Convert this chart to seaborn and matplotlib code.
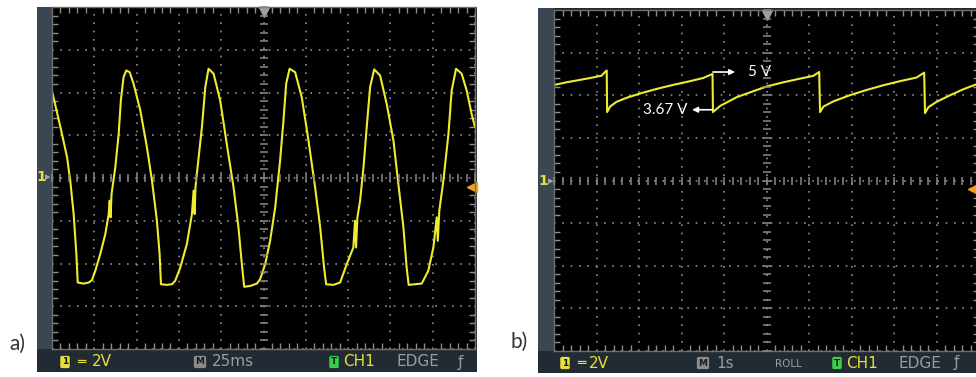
import matplotlib
matplotlib.use("Agg")
import matplotlib.pyplot as plt
from matplotlib.ticker import MultipleLocator
import seaborn as sns
import pandas as pd

# Trace a) : time in ms (25 ms/div), voltage in V (2 V/div)
a_time_ms = [0.4, 5.9, 8.9, 10.8, 12.8, 14.4, 15.2, 18.7, 21.7, 23.6,
             25.6, 28.5, 31.5, 33.5, 34.1, 34.6, 35.2, 37.4, 39.4, 40.7, 42.3, 43.9,
             45.9, 48.2, 52.2, 56.1, 59.1, 62.0, 63.6, 64.4, 67.9, 70.9, 72.8,
             75.8, 79.7, 82.7, 83.7, 84.3, 84.8, 85.6, 88.6, 90.6, 92.5,
             95.5, 99.4, 103.3, 107.3, 110.2, 112.2, 113.6, 117.1, 121.1, 123.0,
             126.0, 128.9, 131.9, 134.8, 136.8, 138.4, 140.4,
             143.7, 147.6, 151.6, 155.5, 158.5, 160.8, 162.0, 166.3, 170.3,
             174.2, 178.1, 179.1, 179.7, 180.5, 182.1, 184.1, 186.0, 188.0, 190.4,
             193.9, 197.8, 201.8, 204.7, 207.7, 209.6, 210.8, 214.6, 218.5,
             222.4, 225.4, 227.4, 228.0, 228.9, 231.3, 234.3, 236.2, 238.8,
             242.1, 245.1, 248.0, 250.0]
a_volts = [3.94, 2.06, 0.97, -0.13, -1.69, -3.56, -4.89, -4.94, -4.89, -4.78,
           -4.34, -3.56, -2.63, -1.69, -1.06, -1.84, -0.75, 0.50, 2.06, 3.63, 4.72, 5.03,
           4.95, 4.41, 3.16, 1.44, -0.13, -2.00, -3.56, -4.97, -5.00, -4.97, -4.81,
           -4.19, -3.09, -1.69, -0.59, -1.69, -0.44, 0.19, 2.38, 4.25, 5.11,
           4.88, 3.63, 1.59, -0.44, -2.31, -4.03, -5.09, -5.05, -4.94, -4.73,
           -4.03, -2.94, -1.38, 0.81, 2.69, 4.41, 5.11,
           4.95, 3.78, 1.75, -0.44, -2.31, -4.19, -4.97, -5.00, -4.89,
           -4.03, -3.25, -2.00, -3.25, -1.84, -1.06, 0.50, 2.38, 4.25, 5.08,
           4.80, 3.47, 1.75, -0.28, -2.31, -4.19, -5.00, -4.97, -4.94,
           -4.34, -3.25, -1.84, -2.94, -1.53, -0.13, 2.06, 4.09, 5.11,
           4.88, 4.09, 3.00, 2.38]

# Trace b) : time in s (1 s/div, roll mode), voltage in V (2 V/div)
b_time_s = [0.02, 0.30, 0.61, 0.93, 1.12, 1.20, 1.24,
            1.25, 1.32, 1.47, 1.71, 2.02, 2.42, 2.81, 3.20, 3.51, 3.73,
            3.74, 3.91, 4.30, 4.69, 5.00, 5.40, 5.79, 6.10, 6.24,
            6.26, 6.34, 6.57, 6.96, 7.36, 7.75, 8.14, 8.53, 8.71,
            8.73, 8.81, 9.00, 9.32, 9.63, 10.0]
b_volts = [4.49, 4.61, 4.72, 4.84, 4.92, 5.09, 5.16,
           3.21, 3.47, 3.69, 3.88, 4.08, 4.30, 4.49, 4.66, 4.81, 5.00,
           3.21, 3.50, 3.91, 4.19, 4.41, 4.61, 4.78, 4.91, 5.09,
           3.21, 3.47, 3.71, 4.00, 4.25, 4.47, 4.66, 4.83, 5.06,
           3.16, 3.44, 3.69, 4.00, 4.28, 4.56]

W, H = 976, 377
TRACE = "#efeb2e"
GRID = "#8e8e8e"
BAR = "#222a33"
STRIP = "#3a4652"


def px_rect(x, y, w, h):
    return [x / W, 1 - (y + h) / H, w / W, h / H]


def fig_xy(x, y):
    return x / W, 1 - y / H


sns.set_theme(style="dark")
plt.rcParams["font.family"] = ["DejaVu Sans"]

fig = plt.figure(figsize=(W / 100, H / 100), dpi=100)
fig.patch.set_facecolor("white")


def scope(frame, strip, screen, xdiv, ydiv, df, xcol, ycol):
    fa = fig.add_axes(px_rect(*frame))
    fa.set_facecolor(BAR)
    fa.set_xticks([])
    fa.set_yticks([])
    for s in fa.spines.values():
        s.set_visible(False)
    sa = fig.add_axes(px_rect(*strip))
    sa.set_facecolor(STRIP)
    sa.set_xticks([])
    sa.set_yticks([])
    for s in sa.spines.values():
        s.set_visible(False)

    ax = fig.add_axes(px_rect(*screen))
    ax.set_facecolor("black")
    ax.set_xlim(0, 10 * xdiv)
    ax.set_ylim(-4 * ydiv, 4 * ydiv)
    ax.xaxis.set_major_locator(MultipleLocator(xdiv))
    ax.yaxis.set_major_locator(MultipleLocator(ydiv))
    ax.xaxis.set_minor_locator(MultipleLocator(xdiv / 5))
    ax.yaxis.set_minor_locator(MultipleLocator(ydiv / 5))
    ax.grid(which="major", color=GRID, linestyle=(0, (1, 4.0)), linewidth=1.2)
    ax.tick_params(which="both", direction="in", colors=GRID, top=True, right=True,
                   bottom=True, left=True, labelbottom=False, labelleft=False)
    ax.tick_params(which="major", length=0)
    ax.tick_params(which="minor", length=4, width=1)
    for s in ax.spines.values():
        s.set_color("#6f6f6f")
        s.set_linewidth(1)

    # centre cross with fine division marks
    cx = fig.add_axes(px_rect(*screen))
    cx.patch.set_visible(False)
    cx.set_xlim(ax.get_xlim())
    cx.set_ylim(ax.get_ylim())
    cx.xaxis.set_major_locator(MultipleLocator(xdiv / 5))
    cx.yaxis.set_major_locator(MultipleLocator(ydiv / 5))
    cx.grid(False)
    for k in ("top", "right"):
        cx.spines[k].set_visible(False)
    for k in ("left", "bottom"):
        cx.spines[k].set_position(("axes", 0.5))
        cx.spines[k].set_linewidth(0)
    cx.tick_params(direction="inout", length=6, width=1.1, colors="#8a8a8a",
                   bottom=True, left=True, top=False, right=False,
                   labelbottom=False, labelleft=False)

    sns.lineplot(data=df, x=xcol, y=ycol, ax=ax, color=TRACE, linewidth=1.5,
                 sort=False, estimator=None)
    ax.set_xlabel("")
    ax.set_ylabel("")
    # trigger position marker
    ax.plot(0.5, 0.985, marker="v", color="#a0a0a0", ms=7, transform=ax.transAxes,
            clip_on=False)
    return fa, ax


df_a = pd.DataFrame({"t": a_time_ms, "v": a_volts})
df_b = pd.DataFrame({"t": b_time_s, "v": b_volts})

fa_a, ax_a = scope((37, 7, 440, 365), (37, 7, 15, 342), (52, 7, 423, 342), 25, 2,
                   df_a, "t", "v")
fa_b, ax_b = scope((538, 8, 460, 365), (538, 8, 16, 343), (554, 10, 425, 341), 1, 2,
                   df_b, "t", "v")

ax_a.plot(0.993, -0.42, marker="<", color="#f2a01e", ms=7,
          transform=ax_a.get_yaxis_transform(), clip_on=False)
ax_b.plot(0.986, -0.42, marker="<", color="#f2a01e", ms=7,
          transform=ax_b.get_yaxis_transform(), clip_on=False)

# channel markers on the left strip
for x1, x2, y in ((41, 48, 177), (543, 551, 181)):
    fig.text(*fig_xy(x1, y), "1", color="#e6e03a", fontsize=10, fontweight="bold",
             ha="center", va="center")
    fig.text(*fig_xy(x2, y), "\u25B8", color="#a8a8a8", fontsize=8,
             ha="center", va="center")

# annotations on b)
LBL = ["Lato", "DejaVu Sans"]
ax_b.annotate("", xy=(4.26, 5.09), xytext=(3.74, 5.09),
              arrowprops=dict(arrowstyle="-|>", color="white", lw=1.2, mutation_scale=8,
                              shrinkA=0, shrinkB=0))
ax_b.text(4.56, 5.09, "5 V", color="white", fontsize=11, family=LBL,
          ha="left", va="center")
ax_b.annotate("", xy=(3.25, 3.32), xytext=(3.72, 3.32),
              arrowprops=dict(arrowstyle="-|>", color="white", lw=1.2, mutation_scale=8,
                              shrinkA=0, shrinkB=0))
ax_b.text(3.13, 3.32, "3.67 V", color="white", fontsize=11, family=LBL,
          ha="right", va="center")

# status bars
YEL = "#e6e03a"
GRY = "#9c9c9c"


def badge(x, y, ch, fc):
    fig.text(*fig_xy(x, y), ch, color="#1a1a1a", fontsize=6.5, fontweight="bold",
             ha="center", va="center",
             bbox=dict(boxstyle="round,pad=0.18", fc=fc, ec="none"))


def status(x, y, s, c, size=11, ha="left"):
    fig.text(*fig_xy(x, y), s, color=c, fontsize=size, ha=ha, va="center")


ya, yb = 362, 363
badge(65, ya, "1", YEL)
status(81, ya, "\u2550", YEL, 10, "center")
status(92, ya, "2V", YEL)
badge(200, ya, "M", "#8c8c8c")
status(212, ya, "25ms", GRY)
badge(334, ya, "T", "#3ccf4a")
status(343, ya, "CH1", YEL)
status(396, ya, "EDGE", GRY)
status(458, ya, "\u0192", GRY)

badge(565, yb, "1", YEL)
status(581, yb, "\u2550", YEL, 10, "center")
status(589, yb, "2V", YEL)
badge(703, yb, "M", "#8c8c8c")
status(716, yb, "1s", GRY)
status(775, yb + 1, "ROLL", GRY, 7.5)
badge(837, yb, "T", "#3ccf4a")
status(846, yb, "CH1", YEL)
status(898, yb, "EDGE", GRY)
status(954, yb, "\u0192", GRY)

# panel labels
fig.text(*fig_xy(9, 344), "a)", color="#333333", fontsize=15, family=LBL,
         ha="left", va="center")
fig.text(*fig_xy(510, 342), "b)", color="#333333", fontsize=15, family=LBL,
         ha="left", va="center")

fig.savefig("out.png", dpi=100, facecolor="white")
